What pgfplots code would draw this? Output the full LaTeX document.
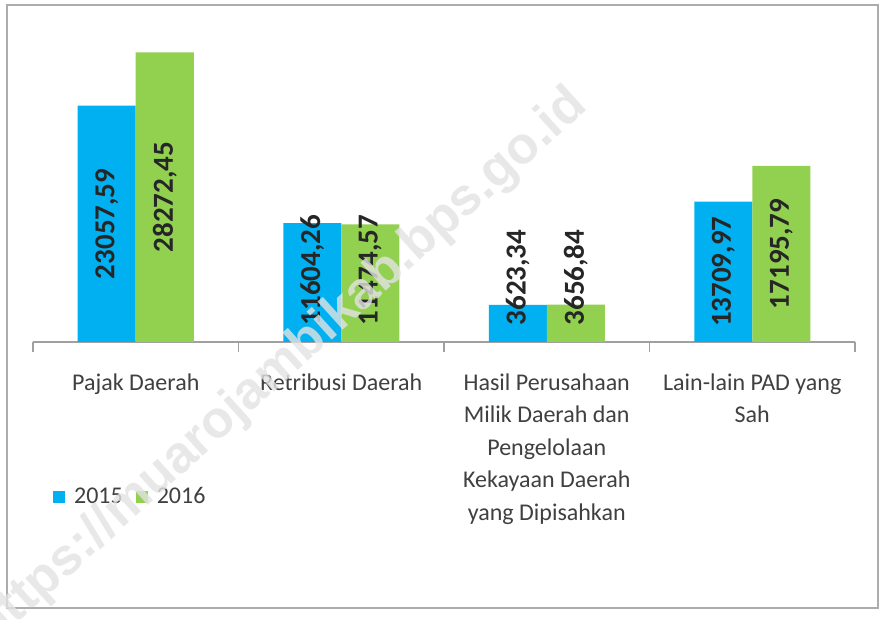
\documentclass[border=0pt]{standalone}
\usepackage{fontspec}
\setmainfont{Carlito}
\newfontfamily\wmfont{Liberation Sans}
\usepackage{pgfplots}
\usepackage{pgfplotstable}
\pgfplotsset{compat=1.18}
\definecolor{cblue}{HTML}{00B0F0}
\definecolor{cgreen}{HTML}{92D050}
\definecolor{txtgray}{HTML}{404040}
\definecolor{axgray}{HTML}{A0A0A0}

\pgfplotstableread{
x y ly lab
0 23057.59 11529 23057,59
1 11604.26 7027 11604,26
2 3623.34 6295 3623,34
3 13709.97 6855 13709,97
}\dataA
\pgfplotstableread{
x y ly lab
0 28272.45 14136 28272,45
1 11474.57 7027 11474,57
2 3656.84 6295 3656,84
3 17195.79 8598 17195,79
}\dataB

\begin{document}
\begin{tikzpicture}
\path[use as bounding box] (0,0) rectangle (442pt,310pt);
\fill[white] (0,0) rectangle (442pt,310pt);
\draw[gray!65, line width=0.8pt] (3.5pt,6pt) rectangle (439pt,307.5pt);
\begin{axis}[
  at={(16.5pt,139pt)}, anchor=south west,
  scale only axis, width=411pt, height=156pt,
  xmin=-0.5, xmax=3.5, ymin=0, ymax=30451,
  ybar, bar width=29pt,
  hide y axis,
  axis x line*=bottom,
  axis line style={axgray, line width=1pt},
  xtick={0,1,2,3},
  xticklabels={Pajak Daerah, Retribusi Daerah, {Hasil Perusahaan\\Milik Daerah dan\\Pengelolaan\\Kekayaan Daerah\\yang Dipisahkan}, {Lain-lain PAD yang\\Sah}},
  xtick align=outside,
  major tick length=0pt,
  major x tick style={draw=none},
  minor xtick={-0.5,0.5,1.5,2.5,3.5},
  minor tick length=5pt,
  minor x tick style={axgray, line width=0.8pt},
  xticklabel style={align=center, font=\fontsize{12}{16.25}\selectfont, text=txtgray, inner sep=0pt, yshift=-15.5pt},
  legend style={at={(0.024,-0.497)}, anchor=west, draw=none, fill=none,
    font=\fontsize{12}{14}\selectfont, text=txtgray, legend columns=2,
    inner sep=0pt, nodes={inner sep=1.5pt},
    /tikz/every even column/.append style={column sep=5pt}},
  legend image code/.code={\fill[#1] (0pt,-3pt) rectangle (6pt,3pt); \path (9pt,0pt);},
]
\addplot[fill=cblue, draw=none, bar shift=-14.5pt] table[x=x,y=y]{\dataA};
\addplot[fill=cgreen, draw=none, bar shift=14.5pt] table[x=x,y=y]{\dataB};
\legend{2015,2016}
\addplot[fill=none, draw=none, bar shift=0pt, forget plot,
  nodes near coords, point meta=explicit symbolic,
  every node near coord/.style={rotate=90, anchor=center, font=\bfseries\fontsize{14.5}{16}\selectfont, text=black!85, inner sep=0pt}]
  table[x expr=\thisrow{x}-0.1411, y=ly, meta=lab]{\dataA};
\addplot[fill=none, draw=none, bar shift=0pt, forget plot,
  nodes near coords, point meta=explicit symbolic,
  every node near coord/.style={rotate=90, anchor=center, font=\bfseries\fontsize{14.5}{16}\selectfont, text=black!85, inner sep=0pt}]
  table[x expr=\thisrow{x}+0.1411, y=ly, meta=lab]{\dataB};
\end{axis}
\node[rotate=42, anchor=base west, text=gray!22, opacity=0.8, font=\wmfont\bfseries\fontsize{26}{26}\selectfont, inner sep=0pt] at (-4pt,-13pt) {https://muarojambikab.bps.go.id};
\end{tikzpicture}
\end{document}
